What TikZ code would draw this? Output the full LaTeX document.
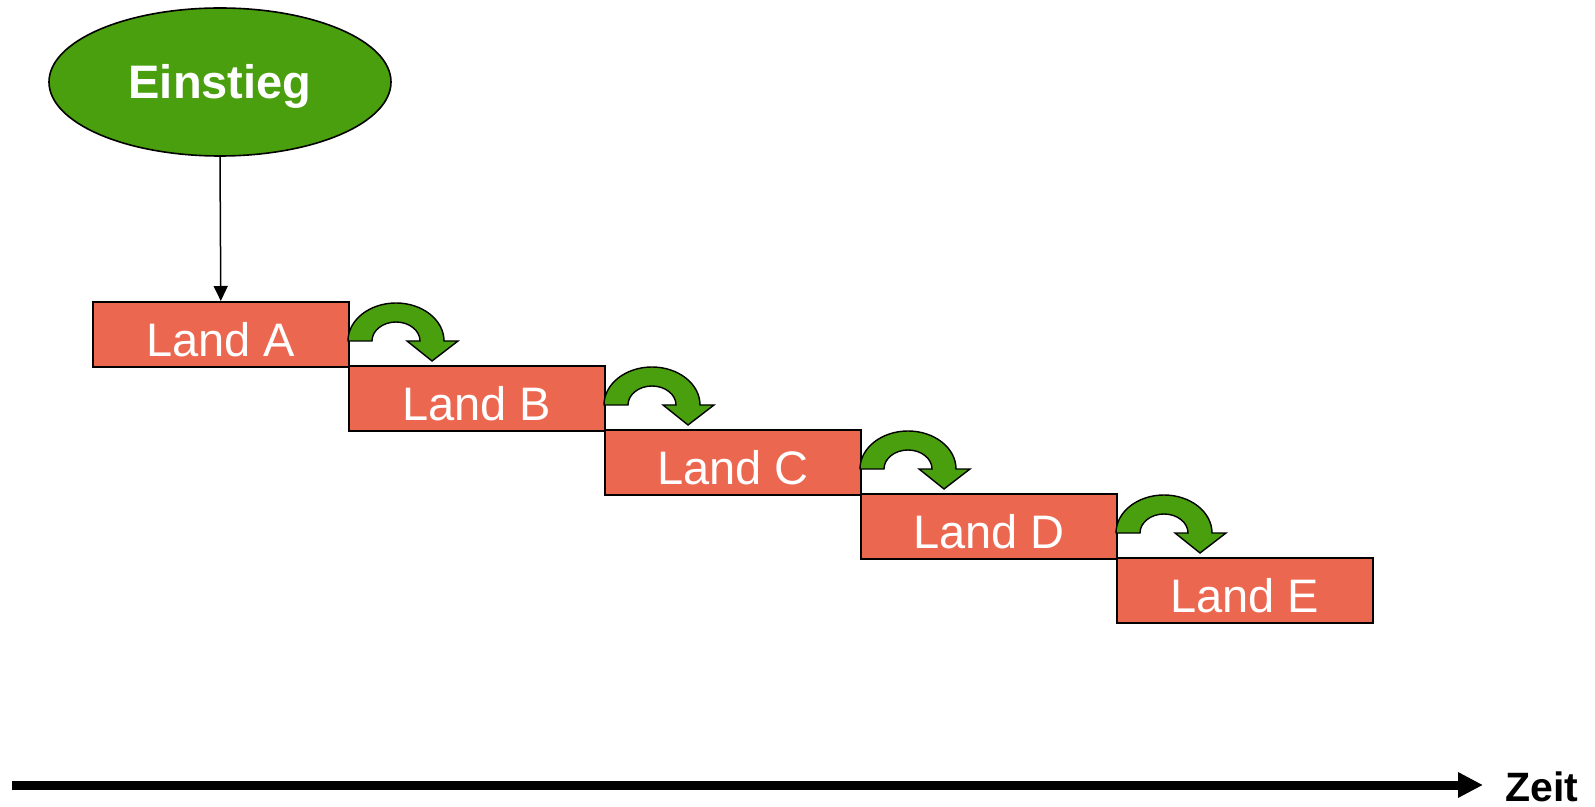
\documentclass[tikz,border=0pt]{standalone}
\usepackage{fontspec}
\setmainfont{Liberation Sans}
\usetikzlibrary{arrows.meta,shapes.geometric}
\definecolor{landred}{RGB}{236,103,80}
\definecolor{eingreen}{RGB}{74,159,14}
\tikzset{
  landbox/.style={draw=black, line width=0.8pt, fill=landred, text=white,
    minimum width=128pt, minimum height=32.5pt, inner sep=0pt, anchor=north west,
    font=\fontsize{23.5pt}{26pt}\selectfont, text height=22.6pt, text depth=0pt},
  startell/.style={ellipse, draw=black, line width=0.8pt, fill=eingreen, text=white,
    minimum width=171pt, minimum height=74pt, inner sep=0pt,
    font=\bfseries\fontsize{23.5pt}{26pt}\selectfont, text height=17pt, text depth=0pt},
  turnarrow/.style={draw=black, line width=0.7pt, fill=eingreen, line join=miter},
  entry/.style={line width=0.75pt, -{Triangle[length=7.5pt,width=7pt]}},
  timeline/.style={line width=4.5pt, -{Triangle[length=12.5pt,width=12pt]}},
}
\begin{document}
\begin{tikzpicture}[x=0.5pt,y=-0.5pt]
\useasboundingbox (0,0) rectangle (1595,807);
\node[startell] (ein) at (220,82) {Einstieg};
\foreach \n/\l [count=\i from 0] in {A/A,B/B,C/C,D/D,E/E} {
  \node[landbox] (land\n) at (92+256*\i,301+64*\i) {Land \l};
}
\draw[entry] (ein.south) -- (landA.north);
% curved transition arrows
\foreach \i in {0,1,2,3} {
  \pgfmathsetmacro{\cx}{92+256*\i+256+48}
  \pgfmathsetmacro{\cy}{301+64*\i+40}
  \draw[turnarrow] (\cx-48,\cy) arc[start angle=180,end angle=360,x radius=48,y radius=38]
    -- (\cx+62,\cy) -- (\cx+36,\cy+20) -- (\cx+11,\cy) -- (\cx+24,\cy)
    arc[start angle=360,end angle=180,x radius=24,y radius=19] -- cycle;
}
\coordinate (tstart) at (12,785);
\coordinate (tend) at (1483,785);
\draw[timeline] (tstart) -- (tend);
\node[anchor=base west, inner sep=0pt, font=\bfseries\fontsize{20.5pt}{24pt}\selectfont] (zeit) at (1505,801) {Zeit};
\end{tikzpicture}
\end{document}
